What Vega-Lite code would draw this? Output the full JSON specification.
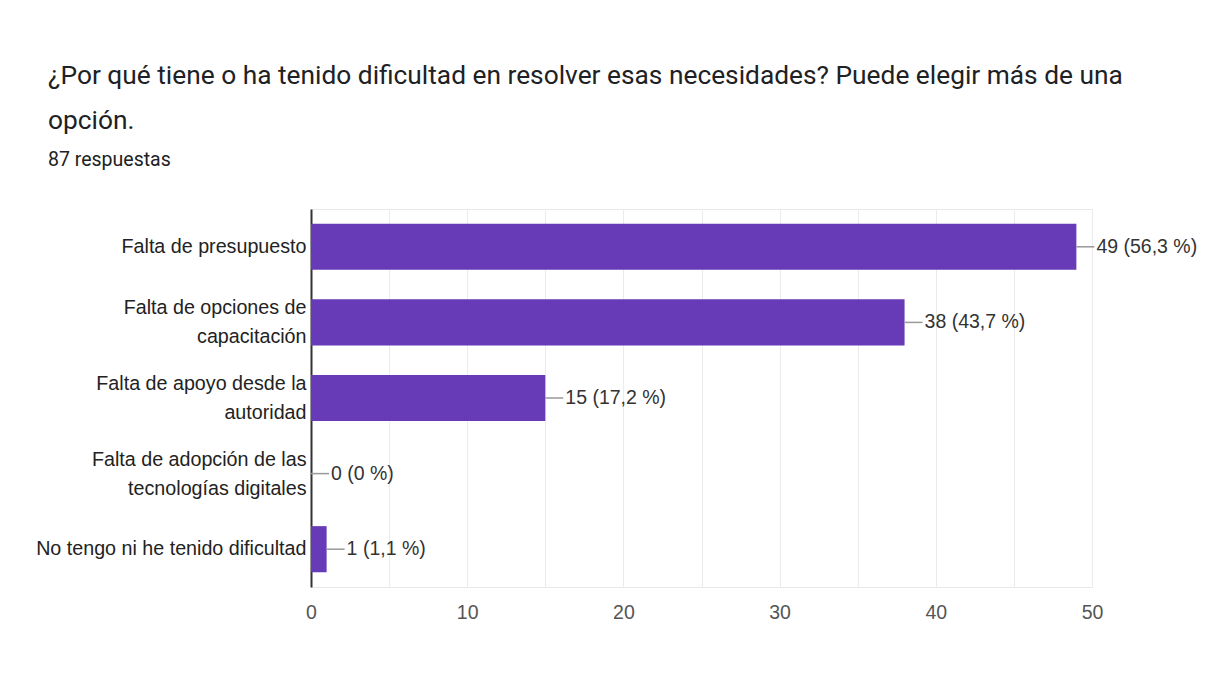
{
  "$schema": "https://vega.github.io/schema/vega-lite/v6.json",
  "width": 781,
  "height": 378,
  "autosize": {"type": "none"},
  "padding": {"left": 311, "top": 209, "right": 120, "bottom": 106},
  "background": "white",
  "config": {"view": {"stroke": "#e8e8e8", "strokeWidth": 1}},
  "title": {
    "text": ["¿Por qué tiene o ha tenido dificultad en resolver esas necesidades? Puede elegir más de una", "opción."],
    "subtitle": "87 respuestas",
    "anchor": "start",
    "frame": "group",
    "dx": -263,
    "offset": 40,
    "font": "Roboto",
    "fontSize": 26.3,
    "fontWeight": "normal",
    "color": "#202124",
    "lineHeight": 45,
    "subtitleFont": "Roboto",
    "subtitleFontSize": 19.5,
    "subtitleColor": "#202124",
    "subtitlePadding": 16
  },
  "data": {
    "values": [
      {"option": "Falta de presupuesto", "count": 49, "label": "49 (56,3 %)"},
      {"option": "Falta de opciones de capacitación", "count": 38, "label": "38 (43,7 %)"},
      {"option": "Falta de apoyo desde la autoridad", "count": 15, "label": "15 (17,2 %)"},
      {"option": "Falta de adopción de las tecnologías digitales", "count": 0, "label": "0 (0 %)"},
      {"option": "No tengo ni he tenido dificultad", "count": 1, "label": "1 (1,1 %)"}
    ]
  },
  "encoding": {
    "y": {
      "field": "option",
      "type": "nominal",
      "sort": null,
      "scale": {"paddingInner": 0.39, "paddingOuter": 0.195},
      "axis": {
        "title": null,
        "ticks": false,
        "domainColor": "#333333",
        "domainWidth": 2,
        "labelPadding": 5,
        "labelFont": "Liberation Sans",
        "labelFontSize": 19.7,
        "labelColor": "#222222",
        "labelLineHeight": 29,
        "labelLimit": 0,
        "labelOffset": {"condition": {"test": "datum.value != 'Falta de presupuesto' && datum.value != 'No tengo ni he tenido dificultad'", "value": -14}, "value": 0},
        "labelExpr": "datum.value == 'Falta de opciones de capacitación' ? ['Falta de opciones de', 'capacitación'] : datum.value == 'Falta de apoyo desde la autoridad' ? ['Falta de apoyo desde la', 'autoridad'] : datum.value == 'Falta de adopción de las tecnologías digitales' ? ['Falta de adopción de las', 'tecnologías digitales'] : datum.label"
      }
    }
  },
  "layer": [
    {
      "mark": {"type": "bar", "color": "#673ab7"},
      "encoding": {
        "x": {
          "field": "count",
          "type": "quantitative",
          "scale": {"domain": [0, 50], "nice": false},
          "axis": {
            "title": null,
            "values": [0, 5, 10, 15, 20, 25, 30, 35, 40, 45, 50],
            "labelExpr": "datum.value % 10 === 0 ? datum.label : ''",
            "grid": true,
            "gridColor": "#ebebeb",
            "gridWidth": 1,
            "ticks": false,
            "domain": false,
            "labelFlush": false,
            "labelPadding": 16,
            "labelFont": "Liberation Sans",
            "labelFontSize": 19.5,
            "labelColor": "#555555"
          }
        }
      }
    },
    {
      "mark": {"type": "rule", "color": "#999999", "strokeWidth": 1.5, "x2Offset": 18},
      "encoding": {
        "x": {"field": "count", "type": "quantitative"},
        "x2": {"field": "count"}
      }
    },
    {
      "mark": {"type": "text", "dx": 20, "align": "left", "baseline": "middle", "font": "Liberation Sans", "fontSize": 19.5, "color": "#333333"},
      "encoding": {
        "x": {"field": "count", "type": "quantitative"},
        "text": {"field": "label"}
      }
    }
  ]
}
